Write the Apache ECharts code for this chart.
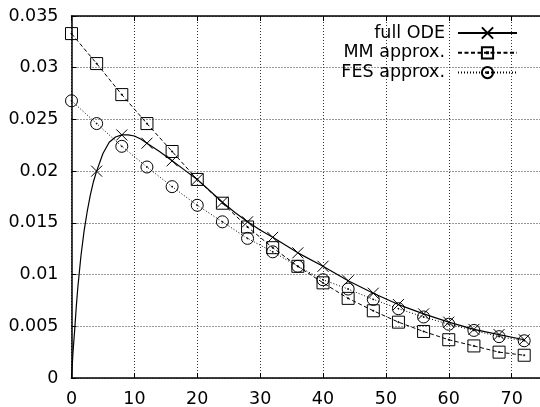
<!DOCTYPE html>
<html>
<head>
<meta charset="utf-8">
<script src="https://cdn.jsdelivr.net/npm/echarts@6/dist/echarts.min.js"></script>
<style>html,body{margin:0;padding:0;background:#fff}#c{width:540px;height:407px}</style>
</head>
<body>
<div id="c"></div>
<script>
// Data
var tMarks = [0,4,8,12,16,20,24,28,32,36,40,44,48,52,56,60,64,68,72];
var mmVals = [0.0333,0.0304,0.0274,0.0246,0.0219,0.0192,0.0169,0.0146,0.0126,0.0108,0.0092,0.0077,0.0065,0.0054,0.0045,0.0037,0.0031,0.0025,0.0022];
var fesVals = [0.0268,0.0246,0.0224,0.0204,0.0185,0.0167,0.0151,0.0135,0.0122,0.0108,0.0095,0.0086,0.0076,0.0067,0.0059,0.0052,0.0046,0.0040,0.0036];
var odeT = [0,0.25,0.5,0.75,1,1.5,2,2.5,3,3.5,4,5,6,7,8,9,10,11,12,14,16,18,20,22,24,26,28,30,32,36,40,44,48,52,56,60,64,68,72];
var odeV = [0,0.0026,0.0046,0.0068,0.0087,0.0118,0.0142,0.0161,0.0177,0.0190,0.0200,0.0217,0.0228,0.0233,0.0235,0.0235,0.0234,0.0231,0.0227,0.0219,0.0210,0.0201,0.0192,0.0181,0.0170,0.0160,0.0151,0.0143,0.0136,0.0121,0.0108,0.0094,0.0082,0.0071,0.0062,0.0054,0.0047,0.0042,0.0037];
var xTicks = [0,10,20,30,40,50,60,70];
var yTicks = [0,0.005,0.01,0.015,0.02,0.025,0.03,0.035];
var names = ['full ODE','MM approx.','FES approx.'];

var FONT = 'DejaVu Sans';
var FS = 17.5;
var symX = 'path://M0,0L12,12M12,0L0,12';
var symSq = 'path://M0,0L12,0L12,12L0,12Z M5.5,5.5L6.5,5.5L6.5,6.5L5.5,6.5Z';
var symCi = 'path://M12,6A6,6 0 1 1 0,6A6,6 0 1 1 12,6Z M5.6,5.6L6.4,5.6L6.4,6.4L5.6,6.4Z';

var odeData = odeT.map(function(t,i){
  var mark = (t > 0 && t % 4 === 0);
  return mark ? {value:[t, odeV[i]]} : {value:[t, odeV[i]], symbol:'none'};
});
var mmData = tMarks.map(function(t,i){return [t, mmVals[i]];});
var fesData = tMarks.map(function(t,i){return [t, fesVals[i]];});

var itemS = {color:'rgba(0,0,0,0)', borderColor:'#000', borderWidth:1};

var chart = echarts.init(document.getElementById('c'), null, {renderer:'canvas'});
chart.setOption({
  animation:false,
  backgroundColor:'#fff',
  textStyle:{fontFamily:FONT, color:'#000'},
  grid:{left:71.5, top:16, width:503, height:362, containLabel:false, outerBoundsMode:'none'},
  legend:{
    data:names,
    orient:'vertical',
    right:22, top:24,
    padding:0,
    align:'right',
    itemWidth:59, itemHeight:14, itemGap:1.8,
    textStyle:{fontFamily:FONT, fontSize:FS, color:'#000', lineHeight:18, padding:[0,8,0,0]},
    selectedMode:false
  },
  xAxis:[{
    type:'value', min:0, max:80, interval:10,
    axisLine:{lineStyle:{color:'#000', width:1.5}},
    axisTick:{inside:true, length:5, lineStyle:{color:'#000'}},
    axisLabel:{fontFamily:FONT, fontSize:FS, color:'#000', margin:12,
      formatter:function(v){return xTicks.indexOf(v) >= 0 ? String(v) : '';}},
    splitLine:{show:true, lineStyle:{color:'#333', type:[1,2], width:1}}
  },{
    type:'value', position:'top', min:0, max:80, interval:10,
    axisLine:{lineStyle:{color:'#000', width:1.5}},
    axisTick:{inside:true, length:5, lineStyle:{color:'#000'}},
    axisLabel:{show:false}, splitLine:{show:false}
  }],
  yAxis:{
    type:'value', min:0, max:0.035, interval:0.005,
    axisLine:{show:true, lineStyle:{color:'#000', width:1.5}},
    axisTick:{show:true, inside:true, length:5, lineStyle:{color:'#000'}},
    axisLabel:{fontFamily:FONT, fontSize:FS, color:'#000', margin:13,
      formatter:function(v){
        for (var i=0;i<yTicks.length;i++){ if (Math.abs(yTicks[i]-v) < 1e-9) return String(yTicks[i]); }
        return '';
      }},
    splitLine:{show:true, lineStyle:{color:'#333', type:[1,2], width:1}}
  },
  series:[{
    name:names[0], type:'line', data:odeData,
    smooth:false,
    symbol:symX, symbolSize:11, showAllSymbol:true,
    itemStyle:itemS,
    lineStyle:{color:'#000', width:1.2, type:'solid'},
    z:3
  },{
    name:names[1], type:'line', data:mmData,
    smooth:false,
    symbol:symSq, symbolSize:12, showAllSymbol:true,
    itemStyle:itemS,
    lineStyle:{color:'#000', width:1, type:[4,2.5]},
    z:2
  },{
    name:names[2], type:'line', data:fesData,
    smooth:false,
    symbol:symCi, symbolSize:12, showAllSymbol:true,
    itemStyle:itemS,
    lineStyle:{color:'#000', width:1, type:[1,2]},
    z:2
  }]
});
</script>
</body>
</html>
